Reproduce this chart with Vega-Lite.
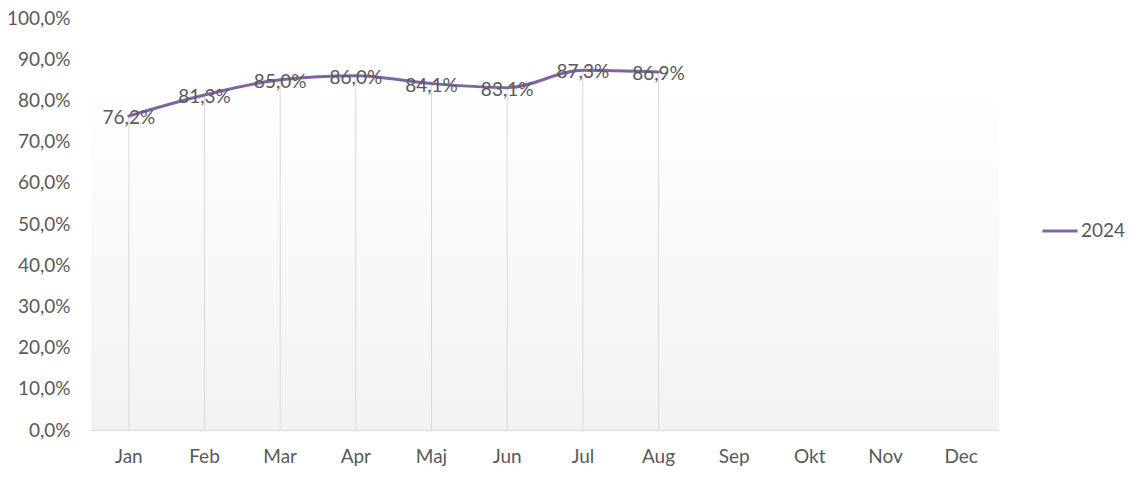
{
  "$schema": "https://vega.github.io/schema/vega-lite/v6.json",
  "width": 908,
  "height": 412,
  "autosize": {"type": "none"},
  "padding": {"left": 91, "top": 18, "right": 135, "bottom": 53},
  "background": "#ffffff",
  "config": {
    "locale": {"number": {"decimal": ",", "thousands": ".", "grouping": [3], "currency": ["", " €"]}},
    "font": "Lato",
    "view": {
      "stroke": null,
      "fill": {"gradient": "linear", "x1": 0, "y1": 0, "x2": 0, "y2": 1,
        "stops": [{"offset": 0, "color": "#ffffff"}, {"offset": 0.15, "color": "#ffffff"}, {"offset": 1, "color": "#f2f2f2"}]}
    }
  },
  "data": {
    "values": [
      {"month": "Jan", "value": 0.762, "year": "2024"},
      {"month": "Feb", "value": 0.813, "year": "2024"},
      {"month": "Mar", "value": 0.850, "year": "2024"},
      {"month": "Apr", "value": 0.860, "year": "2024"},
      {"month": "Maj", "value": 0.841, "year": "2024"},
      {"month": "Jun", "value": 0.831, "year": "2024"},
      {"month": "Jul", "value": 0.873, "year": "2024"},
      {"month": "Aug", "value": 0.869, "year": "2024"}
    ]
  },
  "encoding": {
    "x": {
      "field": "month", "type": "nominal", "sort": null,
      "scale": {"domain": ["Jan","Feb","Mar","Apr","Maj","Jun","Jul","Aug","Sep","Okt","Nov","Dec"], "type": "band", "paddingInner": 0, "paddingOuter": 0},
      "axis": {"title": null, "labelAngle": 0, "ticks": false, "domainColor": "#d9d9d9", "domainWidth": 1, "labelColor": "#595959", "labelFontSize": 19, "labelPadding": 17, "labelFont": "Lato"}
    },
    "y": {
      "field": "value", "type": "quantitative",
      "scale": {"domain": [0, 1], "nice": false},
      "axis": {"title": null, "format": ".1%", "values": [0,0.1,0.2,0.3,0.4,0.5,0.6,0.7,0.8,0.9,1], "domain": false, "ticks": false, "grid": false, "labelColor": "#595959", "labelFontSize": 19, "labelPadding": 21, "labelFont": "Lato"}
    }
  },
  "layer": [
    {
      "mark": {"type": "rule", "color": "#d9d9d9", "strokeWidth": 1},
      "encoding": {"y2": {"datum": 0}}
    },
    {
      "mark": {"type": "line", "interpolate": "monotone", "strokeWidth": 3, "strokeCap": "round"},
      "encoding": {
        "color": {
          "field": "year", "type": "nominal",
          "scale": {"range": ["#8064a2"]},
          "legend": {"title": null, "orient": "none", "legendX": 950, "legendY": 194, "symbolType": "stroke", "symbolSize": 1225, "symbolStrokeWidth": 3, "labelFontSize": 19, "labelColor": "#595959", "labelOffset": 2, "labelFont": "Lato"}
        }
      }
    },
    {
      "mark": {"type": "text", "fontSize": 19, "color": "#595959", "baseline": "middle", "align": "center", "dy": 2},
      "encoding": {"text": {"field": "value", "type": "quantitative", "format": ".1%"}}
    }
  ]
}
